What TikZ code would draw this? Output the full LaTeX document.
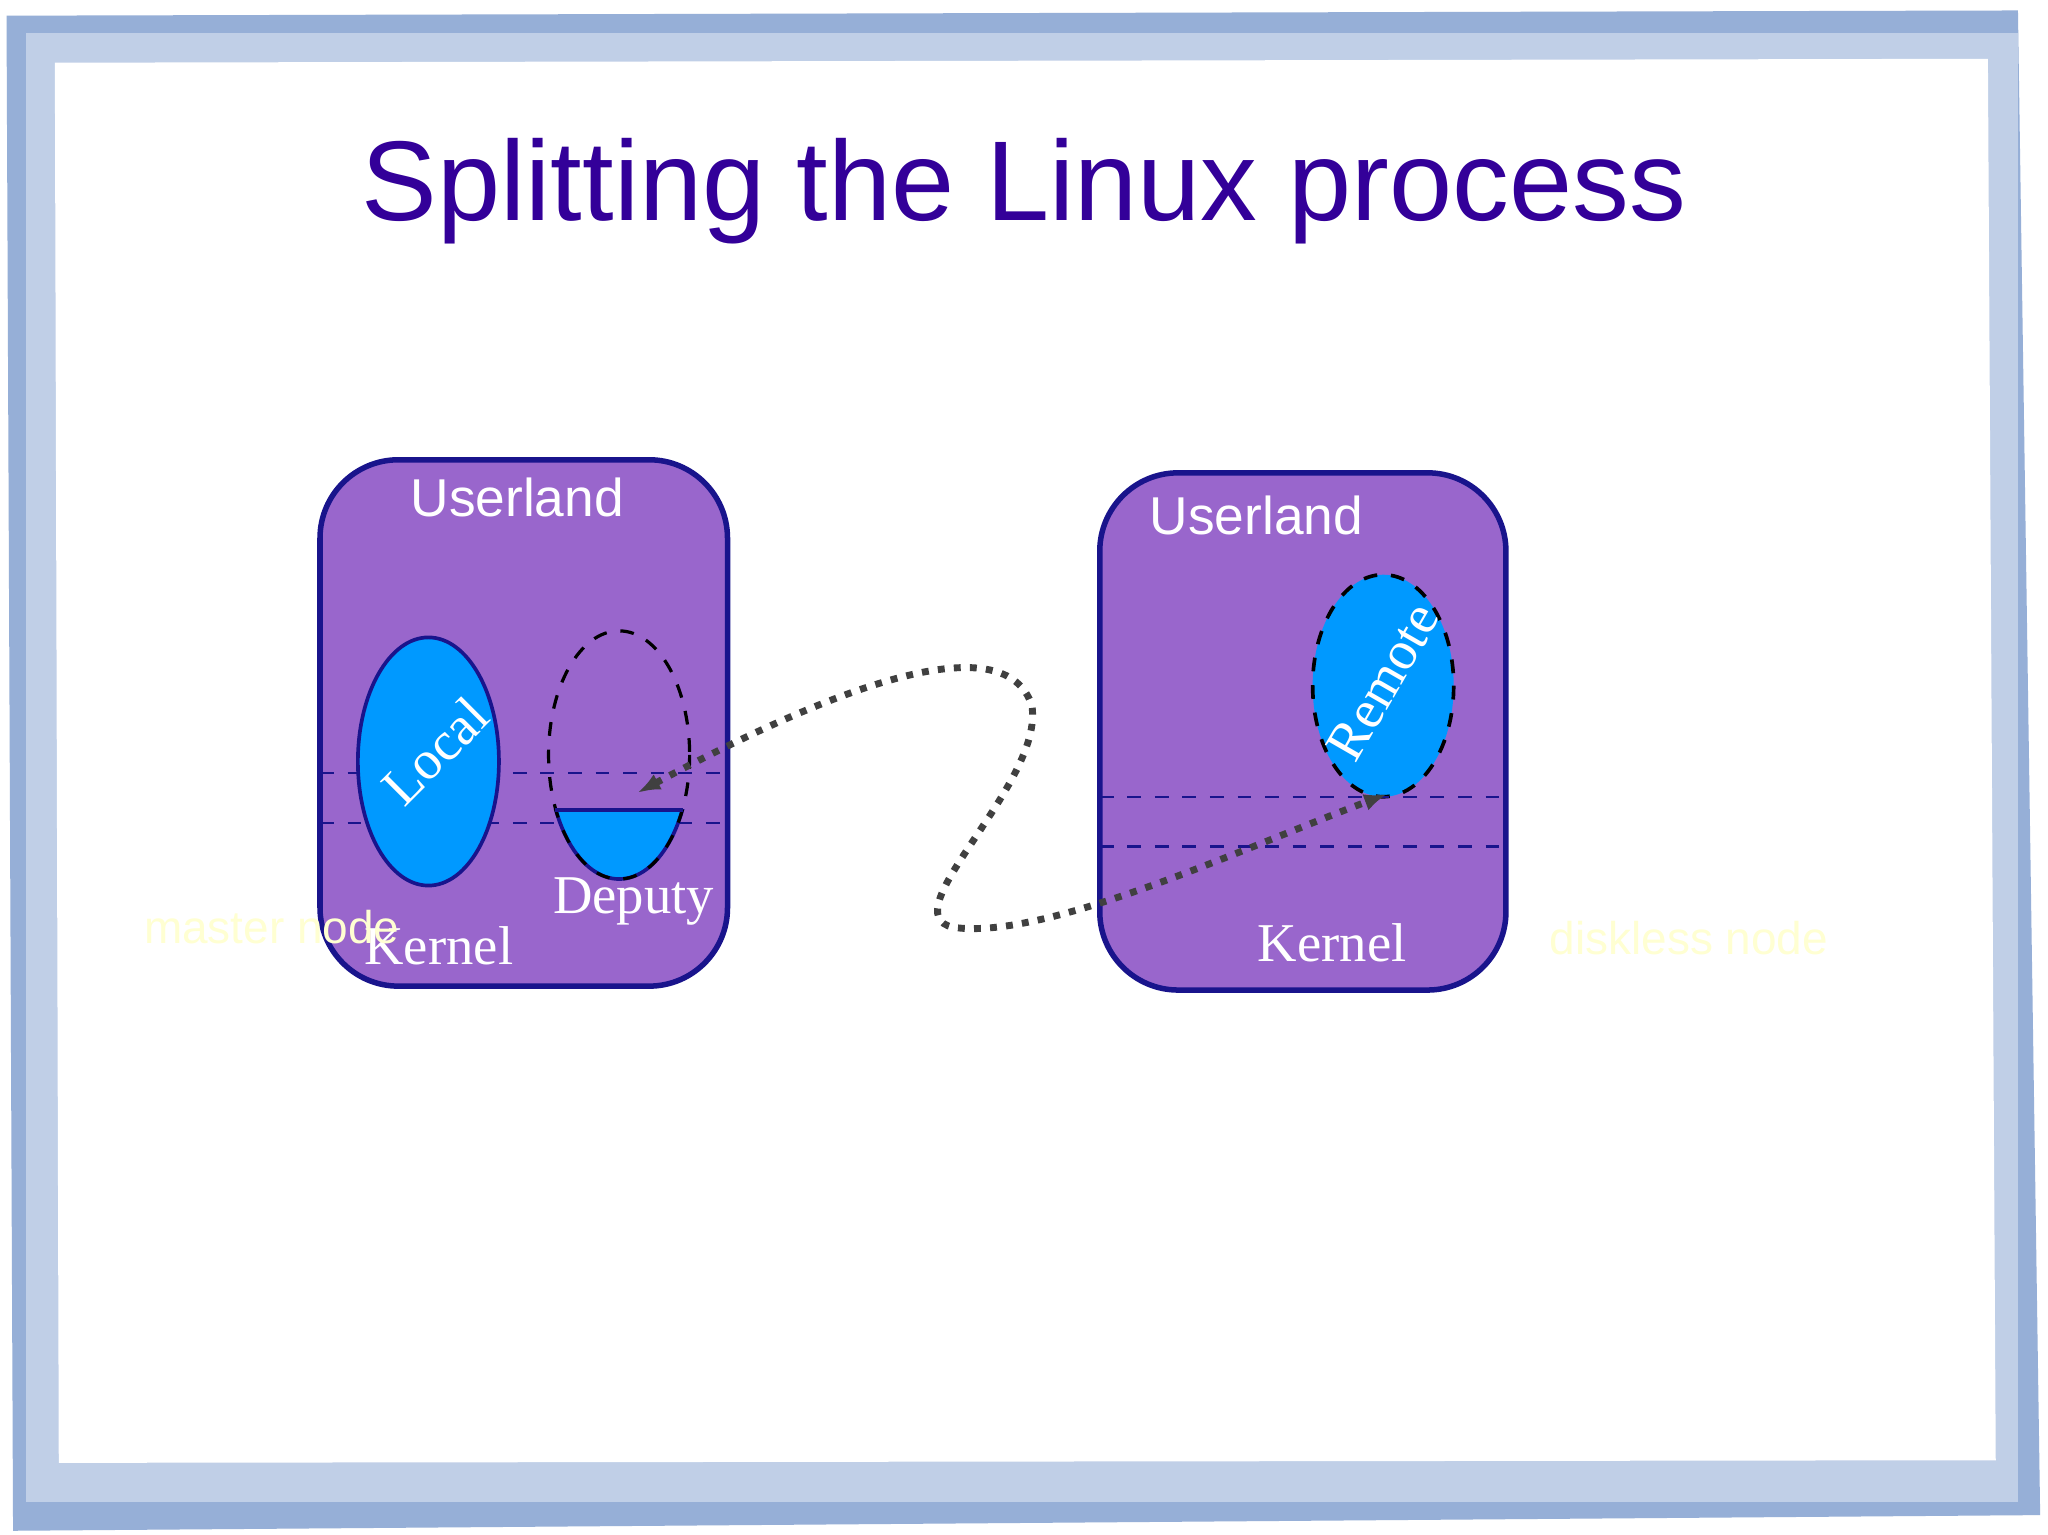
\documentclass[tikz,border=0pt]{standalone}
\usepackage{fontspec}
\setmainfont{Liberation Serif}
\newfontfamily\arialf{Liberation Sans}
\usetikzlibrary{arrows.meta}
\definecolor{purp}{RGB}{153,102,204}
\definecolor{edge}{RGB}{25,20,140}
\definecolor{cyanb}{RGB}{0,153,255}
\definecolor{titlec}{RGB}{51,0,153}
\definecolor{framec}{RGB}{150,175,215}
\definecolor{paley}{RGB}{255,255,210}
\tikzset{
  box/.style={fill=purp,draw=edge,line width=1.2pt,rounded corners=0.6cm},
  sep/.style={draw=edge,dashed,line width=0.5pt},
  ell/.style={fill=cyanb,draw=edge,line width=0.8pt},
  sans/.style={font=\arialf\fontsize{11.6}{14}\selectfont,text=white},
  serif/.style={font=\fontsize{11.9}{14}\selectfont,text=white},
  pale/.style={font=\arialf\fontsize{10}{12}\selectfont,text=paley},
  conn/.style={draw=black!75,dotted,line width=1.5pt}
}
\begin{document}
\begin{tikzpicture}[x=0.01cm,y=-0.01cm]
\useasboundingbox (0,0) rectangle (1568,1175);
\fill[white] (0,0) rectangle (1568,1175);
\fill[framec] (5,12) -- (1545,8) -- (1562,1160) -- (10,1172) -- cycle;
\fill[framec!60] (20,25) rectangle (1545,1150);
\fill[white] (42,48) -- (1522,45) -- (1528,1118) -- (45,1120) -- cycle;
\node[font=\arialf\fontsize{24.7}{28}\selectfont,text=titlec] (title) at (784,146) {Splitting the Linux process};
% left box
\draw[box] (245,352) rectangle (557,755);
\coordinate (l1a) at (245,592); \coordinate (l1b) at (557,592);
\coordinate (l2a) at (245,630); \coordinate (l2b) at (557,630);
\draw[sep] (l1a) -- (l1b); \draw[sep] (l2a) -- (l2b);
\draw[ell] (328,583) ellipse [x radius=54,y radius=95];
\node[serif,rotate=45] (local) at (333,575) {Local};
\begin{scope}
\clip (400,620) rectangle (560,700);
\draw[ell] (474,578) ellipse [x radius=54,y radius=95];
\end{scope}
\draw[black,dashed,line width=0.7pt] (474,578) ellipse [x radius=54,y radius=95];
\draw[edge,line width=0.8pt] (425,620) -- (523,620);
\node[sans] (ul1) at (396,381) {Userland};
\node[serif] (deputy) at (485,690) {Deputy};
\node[serif] (k1) at (336,724) {Kernel};
\node[pale] (master) at (208,710) {master node};
% right box
\draw[box] (842,362) rectangle (1153,758);
\draw[ell,draw=black,dashed] (1059,525) ellipse [x radius=54,y radius=85];
\coordinate (r1a) at (842,610); \coordinate (r1b) at (1153,610);
\coordinate (r2a) at (842,648); \coordinate (r2b) at (1153,648);
\draw[sep] (r1a) -- (r1b); \draw[sep] (r2a) -- (r2b);
\node[serif,rotate=60] (remote) at (1059,522) {Remote};
\node[sans] (ul2) at (962,395) {Userland};
\node[serif] (k2) at (1020,722) {Kernel};
\node[pale] (diskless) at (1293,718) {diskless node};
% connector
\coordinate (depend) at (488,607);
\coordinate (remend) at (1062,608);
\draw[conn,{Latex[length=5pt]}-{Latex[length=5pt]}] (depend) .. controls (650,520) and (770,480) .. (790,540) .. controls (800,600) and (680,700) .. (730,710) .. controls (800,720) and (950,650) .. (remend);
\end{tikzpicture}
\end{document}
